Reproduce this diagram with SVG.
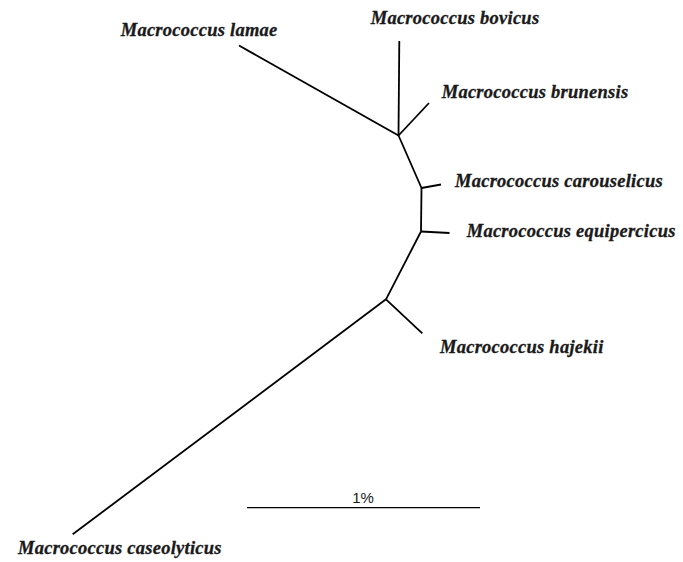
<svg xmlns="http://www.w3.org/2000/svg" width="683" height="562" viewBox="0 0 683 562">
  <style>
    .branch { stroke: #000; stroke-width: 1.8; fill: none; stroke-linecap: butt; }
    .scale { stroke: #000; stroke-width: 1.2; fill: none; }
    .taxon { font-family: "Liberation Serif", "Times New Roman", serif; font-style: italic; font-weight: 700; font-size: 18.5px; letter-spacing: 0.25px; fill: #1a1a1a; stroke: #1a1a1a; stroke-width: 0.3; }
    .scale-label { font-family: "Liberation Sans", Arial, sans-serif; font-size: 15px; fill: #1a1a1a; }
  </style>
  <rect width="683" height="562" fill="#fff"/>

  <!-- unrooted tree branches -->
  <g id="connectors">
    <line class="branch" x1="398.5" y1="135.5" x2="239" y2="45.5"/>
    <line class="branch" x1="398.5" y1="135.5" x2="399.3" y2="41"/>
    <line class="branch" x1="398.5" y1="135.5" x2="429" y2="103"/>
    <line class="branch" x1="398.5" y1="135.5" x2="421.5" y2="188"/>
    <line class="branch" x1="421.5" y1="188" x2="441" y2="184.5"/>
    <line class="branch" x1="421.5" y1="188" x2="421" y2="231.5"/>
    <line class="branch" x1="421" y1="231.5" x2="449.5" y2="233"/>
    <line class="branch" x1="421" y1="231.5" x2="386" y2="299.3"/>
    <line class="branch" x1="386" y1="299.3" x2="422.3" y2="333.3"/>
    <line class="branch" x1="386" y1="299.3" x2="72.7" y2="534.3"/>
  </g>

  <g id="lamae"><text class="taxon" x="120.7" y="35.5">Macrococcus lamae</text></g>
  <g id="bovicus"><text class="taxon" x="370.7" y="23.5">Macrococcus bovicus</text></g>
  <g id="brunensis"><text class="taxon" x="441.7" y="97.7">Macrococcus brunensis</text></g>
  <g id="carouselicus"><text class="taxon" x="455" y="186.7">Macrococcus carouselicus</text></g>
  <g id="equipercicus"><text class="taxon" x="466.7" y="236.7">Macrococcus equipercicus</text></g>
  <g id="hajekii"><text class="taxon" x="440" y="352.7">Macrococcus hajekii</text></g>
  <g id="caseolyticus"><text class="taxon" x="18" y="554">Macrococcus caseolyticus</text></g>

  <!-- scale bar -->
  <g id="scalebar">
    <line class="scale" x1="247" y1="507.7" x2="480" y2="507.7"/>
    <text class="scale-label" x="363" y="503" text-anchor="middle">1%</text>
  </g>
</svg>
